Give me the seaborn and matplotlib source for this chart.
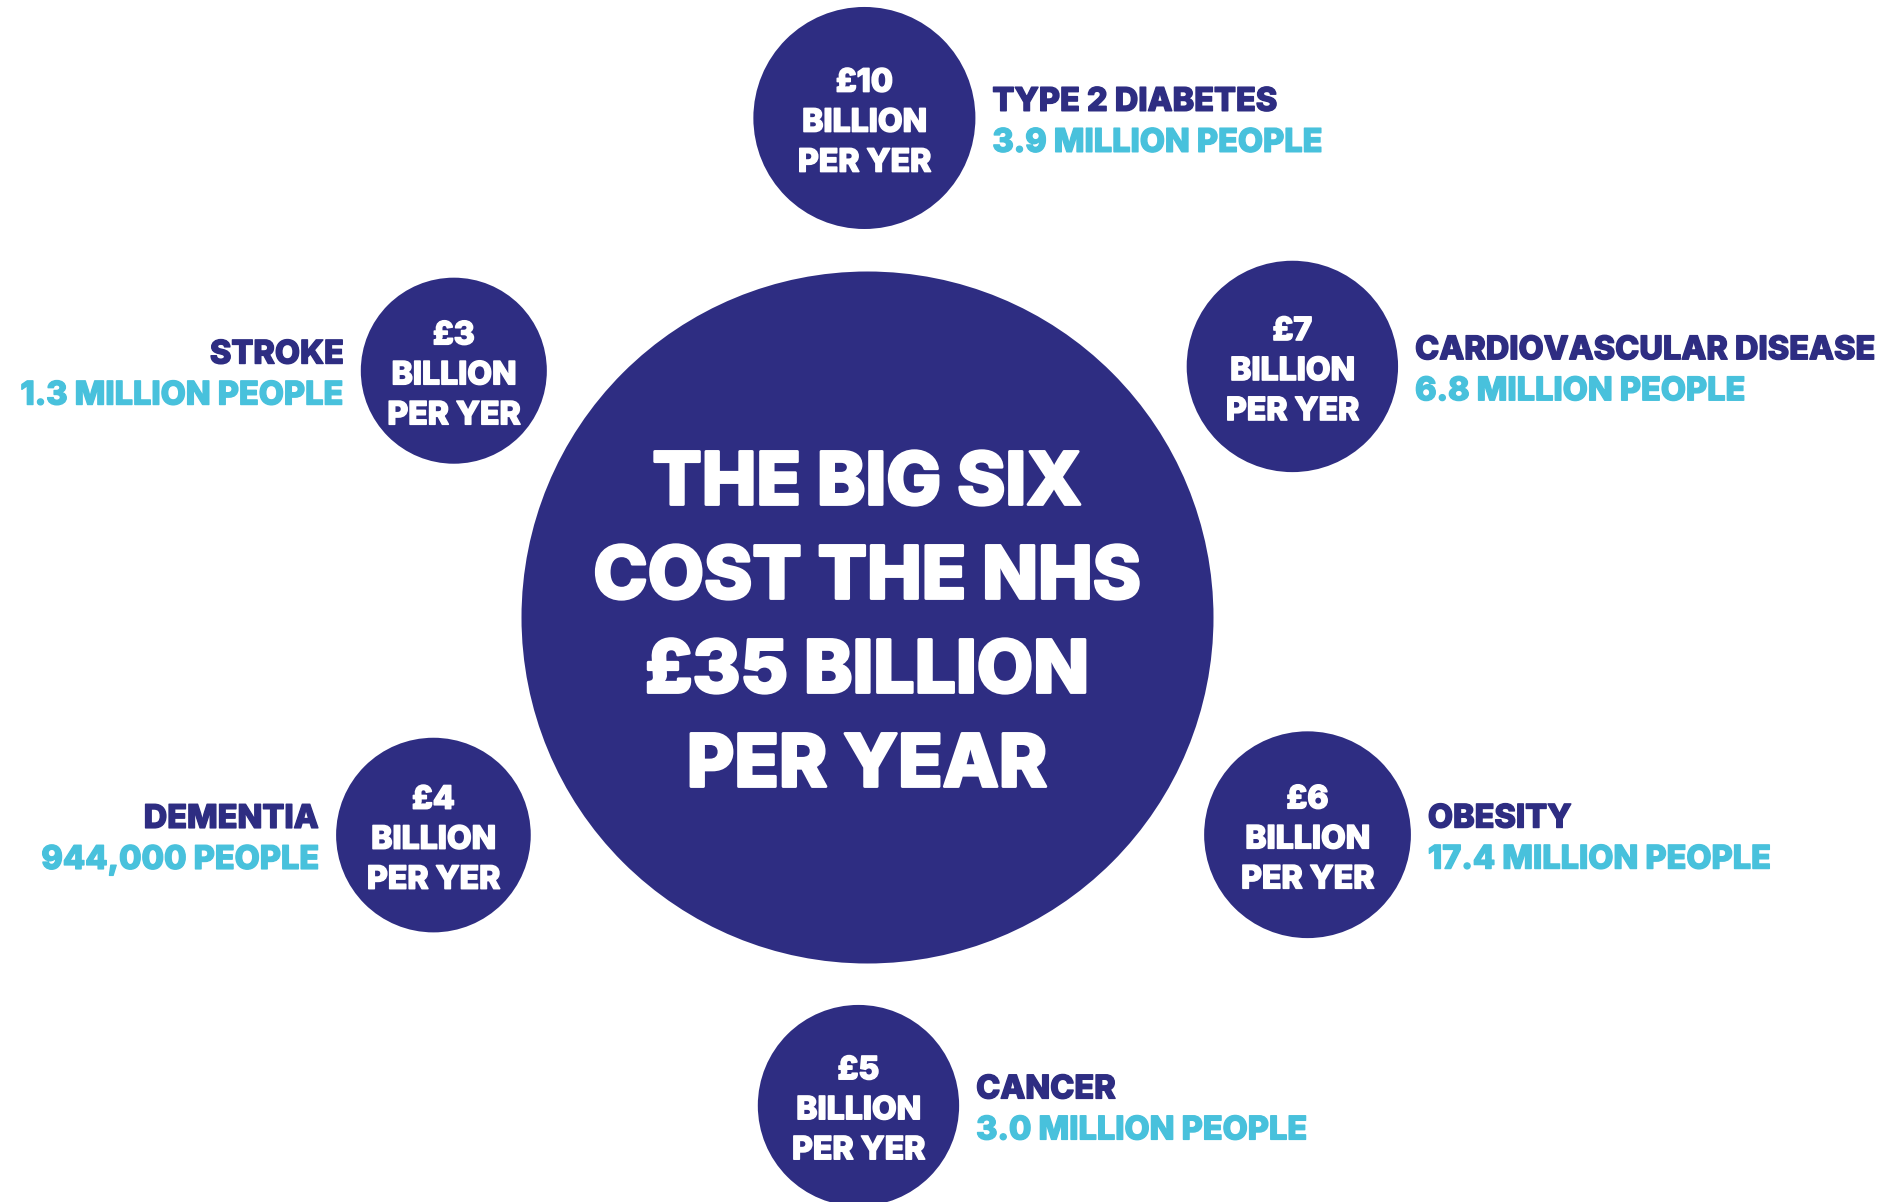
import numpy as np
import pandas as pd
import seaborn as sns
import matplotlib.pyplot as plt
import matplotlib.patheffects as pe

conditions = ["TYPE 2 DIABETES", "CARDIOVASCULAR DISEASE", "OBESITY",
              "CANCER", "DEMENTIA", "STROKE"]
people = ["3.9 MILLION PEOPLE", "6.8 MILLION PEOPLE", "17.4 MILLION PEOPLE",
          "3.0 MILLION PEOPLE", "944,000 PEOPLE", "1.3 MILLION PEOPLE"]
cost_bn = [10, 7, 6, 5, 4, 3]
total_bn = 35
headline = ["THE BIG SIX", "COST THE NHS", f"£{total_bn} BILLION", "PER YEAR"]

NAVY = "#2e2d82"
CYAN = "#48c1dc"

# layout (pixels)
W, H = 1901, 1202
cx, cy = 867, 617
big_r = 346
ring_gap = 42
angles = [90.3, 30.5, -26.3, -91, -153.3, 149.2]
label_side = [1, 1, 1, 1, -1, -1]   # 1 = label on the right of bubble
px2pt = 72 / 100
cap = 0.727                          # cap height / em for Inter


def bubble_radius(v):
    # bubble radius grows with the log of the cost
    return 76.6 + 14.95 * np.log(v)


sns.set_theme(style="white")
plt.rcParams["font.family"] = ["Inter", "DejaVu Sans"]

df = pd.DataFrame({"condition": conditions, "people": people, "cost": cost_bn,
                   "angle": angles, "side": label_side})
df["r"] = bubble_radius(df["cost"])
dist = big_r + ring_gap + df["r"]
theta = np.deg2rad(df["angle"])
df["x"] = cx + dist * np.cos(theta)
df["y"] = cy - dist * np.sin(theta)

fig = plt.figure(figsize=(W / 100, H / 100), dpi=100)
ax = fig.add_axes([0, 0, 1, 1])

# marker area (points^2) from the bubble diameter in pixels
sizes = {v: (2 * bubble_radius(v) * px2pt) ** 2 for v in cost_bn}
sns.scatterplot(data=df, x="x", y="y", size="cost", sizes=sizes, color=NAVY,
                linewidth=0, legend=False, ax=ax)
sns.scatterplot(x=[cx], y=[cy], s=(2 * big_r * px2pt) ** 2, color=NAVY,
                linewidth=0, legend=False, ax=ax)

ax.set_xlim(0, W)
ax.set_ylim(H, 0)
ax.axis("off")


def put(x, y, s, em, color, ha="center", bold=1.0):
    # y is the vertical centre of the capitals; a thin stroke makes it heavier
    ax.text(x, y + cap * em / 2, s, fontsize=em * px2pt, color=color,
            ha=ha, va="baseline", fontweight="heavy",
            path_effects=[pe.withStroke(linewidth=bold, foreground=color)])


# centre headline
for i, line in enumerate(headline):
    put(cx, cy + 2 + (i - 1.5) * 94, line, 73, "white", bold=2.0)

# bubbles text + side labels
for _, row in df.iterrows():
    for off, line in zip([-38, 2, 42], [f"£{row.cost}", "BILLION", "PER YER"]):
        put(row.x, row.y + off, line, 32, "white", bold=1.1)
    lx = row.x + row.side * (row.r + 17)
    ha = "left" if row.side > 0 else "right"
    put(lx, row.y - 19, row.condition, 32.5, NAVY, ha)
    put(lx, row.y + 22, row.people, 32.5, CYAN, ha)

fig.savefig("out.png", dpi=100, facecolor="white")
